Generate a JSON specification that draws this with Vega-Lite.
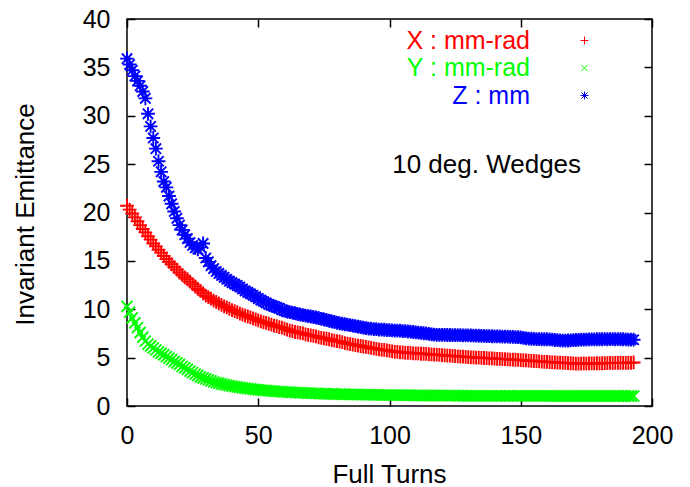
{
  "$schema": "https://vega.github.io/schema/vega-lite/v6.json",
  "autosize": {"type": "none"},
  "padding": {"left": 127, "top": 19, "right": 38, "bottom": 81},
  "width": 525,
  "height": 387,
  "background": "white",
  "config": {
    "font": "Liberation Sans",
    "view": {"stroke": "black", "strokeWidth": 1.5},
    "axis": {"grid": false, "domain": false, "tickColor": "black", "tickWidth": 1.5, "tickSize": -8, "labelColor": "black", "titleColor": "black", "labelFontSize": 25, "titleFontSize": 26, "titleFontWeight": "normal", "labelPadding": 25, "labelFlush": false, "labelOverlap": false}
  },
  "datasets": {
    "pts": [
{"s":"X","t":0,"v":20.7},{"s":"X","t":1,"v":20.3},{"s":"X","t":2,"v":19.9},{"s":"X","t":3,"v":19.5},{"s":"X","t":4,"v":19.1},{"s":"X","t":5,"v":18.7},{"s":"X","t":6,"v":18.3},{"s":"X","t":7,"v":17.95},{"s":"X","t":8,"v":17.55},{"s":"X","t":9,"v":17.2},
{"s":"X","t":10,"v":16.8},{"s":"X","t":11,"v":16.5},{"s":"X","t":12,"v":16.15},{"s":"X","t":13,"v":15.85},{"s":"X","t":14,"v":15.5},{"s":"X","t":15,"v":15.2},{"s":"X","t":16,"v":14.9},{"s":"X","t":17,"v":14.65},{"s":"X","t":18,"v":14.35},{"s":"X","t":19,"v":14.1},
{"s":"X","t":20,"v":13.8},{"s":"X","t":21,"v":13.55},{"s":"X","t":22,"v":13.3},{"s":"X","t":23,"v":13.1},{"s":"X","t":24,"v":12.85},{"s":"X","t":25,"v":12.6},{"s":"X","t":26,"v":12.35},{"s":"X","t":27,"v":12.1},{"s":"X","t":28,"v":11.9},{"s":"X","t":29,"v":11.65},
{"s":"X","t":30,"v":11.4},{"s":"X","t":31,"v":11.25},{"s":"X","t":32,"v":11.1},{"s":"X","t":33,"v":10.9},{"s":"X","t":34,"v":10.75},{"s":"X","t":35,"v":10.6},{"s":"X","t":36,"v":10.45},{"s":"X","t":37,"v":10.3},{"s":"X","t":38,"v":10.2},{"s":"X","t":39,"v":10.05},
{"s":"X","t":40,"v":9.9},{"s":"X","t":41,"v":9.8},{"s":"X","t":42,"v":9.7},{"s":"X","t":43,"v":9.55},{"s":"X","t":44,"v":9.45},{"s":"X","t":45,"v":9.35},{"s":"X","t":46,"v":9.25},{"s":"X","t":47,"v":9.15},{"s":"X","t":48,"v":9.05},{"s":"X","t":49,"v":8.95},
{"s":"X","t":50,"v":8.85},{"s":"X","t":51,"v":8.75},{"s":"X","t":52,"v":8.65},{"s":"X","t":53,"v":8.6},{"s":"X","t":54,"v":8.5},{"s":"X","t":55,"v":8.4},{"s":"X","t":56,"v":8.3},{"s":"X","t":57,"v":8.25},{"s":"X","t":58,"v":8.15},{"s":"X","t":59,"v":8.1},
{"s":"X","t":60,"v":8.0},{"s":"X","t":61,"v":7.9},{"s":"X","t":62,"v":7.8},{"s":"X","t":63,"v":7.75},{"s":"X","t":64,"v":7.65},{"s":"X","t":65,"v":7.6},{"s":"X","t":66,"v":7.55},{"s":"X","t":67,"v":7.5},{"s":"X","t":68,"v":7.4},{"s":"X","t":69,"v":7.35},
{"s":"X","t":70,"v":7.3},{"s":"X","t":71,"v":7.25},{"s":"X","t":72,"v":7.2},{"s":"X","t":73,"v":7.1},{"s":"X","t":74,"v":7.05},{"s":"X","t":75,"v":7.0},{"s":"X","t":76,"v":6.95},{"s":"X","t":77,"v":6.9},{"s":"X","t":78,"v":6.8},{"s":"X","t":79,"v":6.75},
{"s":"X","t":80,"v":6.7},{"s":"X","t":81,"v":6.65},{"s":"X","t":82,"v":6.6},{"s":"X","t":83,"v":6.5},{"s":"X","t":84,"v":6.45},{"s":"X","t":85,"v":6.4},{"s":"X","t":86,"v":6.35},{"s":"X","t":87,"v":6.3},{"s":"X","t":88,"v":6.25},{"s":"X","t":89,"v":6.2},
{"s":"X","t":90,"v":6.15},{"s":"X","t":91,"v":6.1},{"s":"X","t":92,"v":6.05},{"s":"X","t":93,"v":6.0},{"s":"X","t":94,"v":5.95},{"s":"X","t":95,"v":5.9},{"s":"X","t":96,"v":5.85},{"s":"X","t":97,"v":5.8},{"s":"X","t":98,"v":5.8},{"s":"X","t":99,"v":5.75},
{"s":"X","t":100,"v":5.7},{"s":"X","t":101,"v":5.65},{"s":"X","t":102,"v":5.6},{"s":"X","t":103,"v":5.6},{"s":"X","t":104,"v":5.55},{"s":"X","t":105,"v":5.55},{"s":"X","t":106,"v":5.5},{"s":"X","t":107,"v":5.5},{"s":"X","t":108,"v":5.5},{"s":"X","t":109,"v":5.45},
{"s":"X","t":110,"v":5.45},{"s":"X","t":111,"v":5.43},{"s":"X","t":112,"v":5.4},{"s":"X","t":113,"v":5.4},{"s":"X","t":114,"v":5.38},{"s":"X","t":115,"v":5.35},{"s":"X","t":116,"v":5.33},{"s":"X","t":117,"v":5.3},{"s":"X","t":118,"v":5.3},{"s":"X","t":119,"v":5.28},
{"s":"X","t":120,"v":5.25},{"s":"X","t":121,"v":5.23},{"s":"X","t":122,"v":5.2},{"s":"X","t":123,"v":5.2},{"s":"X","t":124,"v":5.18},{"s":"X","t":125,"v":5.15},{"s":"X","t":126,"v":5.13},{"s":"X","t":127,"v":5.1},{"s":"X","t":128,"v":5.1},{"s":"X","t":129,"v":5.08},
{"s":"X","t":130,"v":5.05},{"s":"X","t":131,"v":5.03},{"s":"X","t":132,"v":5.02},{"s":"X","t":133,"v":5.0},{"s":"X","t":134,"v":5.0},{"s":"X","t":135,"v":4.98},{"s":"X","t":136,"v":4.96},{"s":"X","t":137,"v":4.95},{"s":"X","t":138,"v":4.93},{"s":"X","t":139,"v":4.92},
{"s":"X","t":140,"v":4.9},{"s":"X","t":141,"v":4.88},{"s":"X","t":142,"v":4.87},{"s":"X","t":143,"v":4.85},{"s":"X","t":144,"v":4.84},{"s":"X","t":145,"v":4.82},{"s":"X","t":146,"v":4.8},{"s":"X","t":147,"v":4.79},{"s":"X","t":148,"v":4.78},{"s":"X","t":149,"v":4.76},
{"s":"X","t":150,"v":4.75},{"s":"X","t":151,"v":4.73},{"s":"X","t":152,"v":4.71},{"s":"X","t":153,"v":4.69},{"s":"X","t":154,"v":4.67},{"s":"X","t":155,"v":4.65},{"s":"X","t":156,"v":4.63},{"s":"X","t":157,"v":4.61},{"s":"X","t":158,"v":4.59},{"s":"X","t":159,"v":4.57},
{"s":"X","t":160,"v":4.55},{"s":"X","t":161,"v":4.54},{"s":"X","t":162,"v":4.52},{"s":"X","t":163,"v":4.51},{"s":"X","t":164,"v":4.49},{"s":"X","t":165,"v":4.48},{"s":"X","t":166,"v":4.46},{"s":"X","t":167,"v":4.45},{"s":"X","t":168,"v":4.43},{"s":"X","t":169,"v":4.42},
{"s":"X","t":170,"v":4.4},{"s":"X","t":171,"v":4.38},{"s":"X","t":172,"v":4.37},{"s":"X","t":173,"v":4.38},{"s":"X","t":174,"v":4.4},{"s":"X","t":175,"v":4.39},{"s":"X","t":176,"v":4.4},{"s":"X","t":177,"v":4.41},{"s":"X","t":178,"v":4.4},{"s":"X","t":179,"v":4.42},
{"s":"X","t":180,"v":4.4},{"s":"X","t":181,"v":4.42},{"s":"X","t":182,"v":4.44},{"s":"X","t":183,"v":4.43},{"s":"X","t":184,"v":4.45},{"s":"X","t":185,"v":4.44},{"s":"X","t":186,"v":4.46},{"s":"X","t":187,"v":4.45},{"s":"X","t":188,"v":4.47},{"s":"X","t":189,"v":4.46},
{"s":"X","t":190,"v":4.45},{"s":"X","t":191,"v":4.47},{"s":"X","t":192,"v":4.46},{"s":"X","t":193,"v":4.5},
{"s":"Y","t":0,"v":10.3},{"s":"Y","t":1,"v":9.7},{"s":"Y","t":2,"v":9.1},{"s":"Y","t":3,"v":8.6},{"s":"Y","t":4,"v":8.1},{"s":"Y","t":5,"v":7.6},{"s":"Y","t":6,"v":7.1},{"s":"Y","t":7,"v":6.7},{"s":"Y","t":8,"v":6.4},{"s":"Y","t":9,"v":6.2},
{"s":"Y","t":10,"v":6.0},{"s":"Y","t":11,"v":5.8},{"s":"Y","t":12,"v":5.6},{"s":"Y","t":13,"v":5.45},{"s":"Y","t":14,"v":5.3},{"s":"Y","t":15,"v":5.1},{"s":"Y","t":16,"v":4.95},{"s":"Y","t":17,"v":4.8},{"s":"Y","t":18,"v":4.6},{"s":"Y","t":19,"v":4.45},
{"s":"Y","t":20,"v":4.3},{"s":"Y","t":21,"v":4.1},{"s":"Y","t":22,"v":3.95},{"s":"Y","t":23,"v":3.8},{"s":"Y","t":24,"v":3.6},{"s":"Y","t":25,"v":3.45},{"s":"Y","t":26,"v":3.3},{"s":"Y","t":27,"v":3.15},{"s":"Y","t":28,"v":3.0},{"s":"Y","t":29,"v":2.9},
{"s":"Y","t":30,"v":2.8},{"s":"Y","t":31,"v":2.7},{"s":"Y","t":32,"v":2.6},{"s":"Y","t":33,"v":2.5},{"s":"Y","t":34,"v":2.42},{"s":"Y","t":35,"v":2.35},{"s":"Y","t":36,"v":2.28},{"s":"Y","t":37,"v":2.22},{"s":"Y","t":38,"v":2.16},{"s":"Y","t":39,"v":2.1},
{"s":"Y","t":40,"v":2.05},{"s":"Y","t":41,"v":2.0},{"s":"Y","t":42,"v":1.96},{"s":"Y","t":43,"v":1.92},{"s":"Y","t":44,"v":1.88},{"s":"Y","t":45,"v":1.84},{"s":"Y","t":46,"v":1.8},{"s":"Y","t":47,"v":1.77},{"s":"Y","t":48,"v":1.73},{"s":"Y","t":49,"v":1.7},
{"s":"Y","t":50,"v":1.67},{"s":"Y","t":51,"v":1.65},{"s":"Y","t":52,"v":1.62},{"s":"Y","t":53,"v":1.6},{"s":"Y","t":54,"v":1.57},{"s":"Y","t":55,"v":1.55},{"s":"Y","t":56,"v":1.53},{"s":"Y","t":57,"v":1.51},{"s":"Y","t":58,"v":1.49},{"s":"Y","t":59,"v":1.47},
{"s":"Y","t":60,"v":1.46},{"s":"Y","t":61,"v":1.44},{"s":"Y","t":62,"v":1.42},{"s":"Y","t":63,"v":1.41},{"s":"Y","t":64,"v":1.39},{"s":"Y","t":65,"v":1.38},{"s":"Y","t":66,"v":1.37},{"s":"Y","t":67,"v":1.35},{"s":"Y","t":68,"v":1.34},{"s":"Y","t":69,"v":1.33},
{"s":"Y","t":70,"v":1.32},{"s":"Y","t":71,"v":1.31},{"s":"Y","t":72,"v":1.3},{"s":"Y","t":73,"v":1.29},{"s":"Y","t":74,"v":1.28},{"s":"Y","t":75,"v":1.27},{"s":"Y","t":76,"v":1.26},{"s":"Y","t":77,"v":1.25},{"s":"Y","t":78,"v":1.24},{"s":"Y","t":79,"v":1.24},
{"s":"Y","t":80,"v":1.23},{"s":"Y","t":81,"v":1.22},{"s":"Y","t":82,"v":1.22},{"s":"Y","t":83,"v":1.21},{"s":"Y","t":84,"v":1.2},{"s":"Y","t":85,"v":1.2},{"s":"Y","t":86,"v":1.19},{"s":"Y","t":87,"v":1.19},{"s":"Y","t":88,"v":1.18},{"s":"Y","t":89,"v":1.18},
{"s":"Y","t":90,"v":1.17},{"s":"Y","t":91,"v":1.17},{"s":"Y","t":92,"v":1.16},{"s":"Y","t":93,"v":1.16},{"s":"Y","t":94,"v":1.15},{"s":"Y","t":95,"v":1.15},{"s":"Y","t":96,"v":1.15},{"s":"Y","t":97,"v":1.14},{"s":"Y","t":98,"v":1.14},{"s":"Y","t":99,"v":1.13},
{"s":"Y","t":100,"v":1.13},{"s":"Y","t":101,"v":1.13},{"s":"Y","t":102,"v":1.12},{"s":"Y","t":103,"v":1.12},{"s":"Y","t":104,"v":1.12},{"s":"Y","t":105,"v":1.11},{"s":"Y","t":106,"v":1.11},{"s":"Y","t":107,"v":1.11},{"s":"Y","t":108,"v":1.1},{"s":"Y","t":109,"v":1.1},
{"s":"Y","t":110,"v":1.1},{"s":"Y","t":111,"v":1.1},{"s":"Y","t":112,"v":1.09},{"s":"Y","t":113,"v":1.09},{"s":"Y","t":114,"v":1.09},{"s":"Y","t":115,"v":1.09},{"s":"Y","t":116,"v":1.08},{"s":"Y","t":117,"v":1.08},{"s":"Y","t":118,"v":1.08},{"s":"Y","t":119,"v":1.08},
{"s":"Y","t":120,"v":1.08},{"s":"Y","t":121,"v":1.07},{"s":"Y","t":122,"v":1.07},{"s":"Y","t":123,"v":1.07},{"s":"Y","t":124,"v":1.07},{"s":"Y","t":125,"v":1.07},{"s":"Y","t":126,"v":1.06},{"s":"Y","t":127,"v":1.06},{"s":"Y","t":128,"v":1.06},{"s":"Y","t":129,"v":1.06},
{"s":"Y","t":130,"v":1.06},{"s":"Y","t":131,"v":1.06},{"s":"Y","t":132,"v":1.05},{"s":"Y","t":133,"v":1.05},{"s":"Y","t":134,"v":1.05},{"s":"Y","t":135,"v":1.05},{"s":"Y","t":136,"v":1.05},{"s":"Y","t":137,"v":1.05},{"s":"Y","t":138,"v":1.05},{"s":"Y","t":139,"v":1.05},
{"s":"Y","t":140,"v":1.05},{"s":"Y","t":141,"v":1.04},{"s":"Y","t":142,"v":1.04},{"s":"Y","t":143,"v":1.04},{"s":"Y","t":144,"v":1.04},{"s":"Y","t":145,"v":1.04},{"s":"Y","t":146,"v":1.04},{"s":"Y","t":147,"v":1.04},{"s":"Y","t":148,"v":1.04},{"s":"Y","t":149,"v":1.04},
{"s":"Y","t":150,"v":1.04},{"s":"Y","t":151,"v":1.04},{"s":"Y","t":152,"v":1.04},{"s":"Y","t":153,"v":1.04},{"s":"Y","t":154,"v":1.04},{"s":"Y","t":155,"v":1.04},{"s":"Y","t":156,"v":1.04},{"s":"Y","t":157,"v":1.04},{"s":"Y","t":158,"v":1.04},{"s":"Y","t":159,"v":1.04},
{"s":"Y","t":160,"v":1.04},{"s":"Y","t":161,"v":1.03},{"s":"Y","t":162,"v":1.03},{"s":"Y","t":163,"v":1.03},{"s":"Y","t":164,"v":1.03},{"s":"Y","t":165,"v":1.03},{"s":"Y","t":166,"v":1.03},{"s":"Y","t":167,"v":1.03},{"s":"Y","t":168,"v":1.03},{"s":"Y","t":169,"v":1.03},
{"s":"Y","t":170,"v":1.03},{"s":"Y","t":171,"v":1.03},{"s":"Y","t":172,"v":1.03},{"s":"Y","t":173,"v":1.03},{"s":"Y","t":174,"v":1.03},{"s":"Y","t":175,"v":1.03},{"s":"Y","t":176,"v":1.03},{"s":"Y","t":177,"v":1.03},{"s":"Y","t":178,"v":1.03},{"s":"Y","t":179,"v":1.03},
{"s":"Y","t":180,"v":1.03},{"s":"Y","t":181,"v":1.03},{"s":"Y","t":182,"v":1.03},{"s":"Y","t":183,"v":1.03},{"s":"Y","t":184,"v":1.03},{"s":"Y","t":185,"v":1.03},{"s":"Y","t":186,"v":1.03},{"s":"Y","t":187,"v":1.03},{"s":"Y","t":188,"v":1.03},{"s":"Y","t":189,"v":1.03},
{"s":"Y","t":190,"v":1.03},{"s":"Y","t":191,"v":1.03},{"s":"Y","t":192,"v":1.03},{"s":"Y","t":193,"v":1.03},
{"s":"Z","t":0,"v":35.9},{"s":"Z","t":1,"v":35.3},{"s":"Z","t":2,"v":34.7},{"s":"Z","t":3,"v":34.1},{"s":"Z","t":4,"v":33.6},{"s":"Z","t":5,"v":33.1},{"s":"Z","t":6,"v":32.5},{"s":"Z","t":7,"v":31.8},{"s":"Z","t":8,"v":30.2},{"s":"Z","t":9,"v":28.9},
{"s":"Z","t":10,"v":27.7},{"s":"Z","t":11,"v":26.6},{"s":"Z","t":12,"v":25.3},{"s":"Z","t":13,"v":24.2},{"s":"Z","t":14,"v":23.2},{"s":"Z","t":15,"v":22.6},{"s":"Z","t":16,"v":21.7},{"s":"Z","t":17,"v":20.9},{"s":"Z","t":18,"v":20.1},{"s":"Z","t":19,"v":19.4},
{"s":"Z","t":20,"v":18.7},{"s":"Z","t":21,"v":18.2},{"s":"Z","t":22,"v":17.7},{"s":"Z","t":23,"v":17.3},{"s":"Z","t":24,"v":16.9},{"s":"Z","t":25,"v":16.6},{"s":"Z","t":26,"v":16.35},{"s":"Z","t":27,"v":16.2},{"s":"Z","t":28,"v":16.4},{"s":"Z","t":29,"v":16.8},
{"s":"Z","t":30,"v":15.3},{"s":"Z","t":31,"v":14.9},{"s":"Z","t":32,"v":14.5},{"s":"Z","t":33,"v":14.2},{"s":"Z","t":34,"v":13.9},{"s":"Z","t":35,"v":13.7},{"s":"Z","t":36,"v":13.5},{"s":"Z","t":37,"v":13.3},{"s":"Z","t":38,"v":13.1},{"s":"Z","t":39,"v":12.9},
{"s":"Z","t":40,"v":12.75},{"s":"Z","t":41,"v":12.6},{"s":"Z","t":42,"v":12.45},{"s":"Z","t":43,"v":12.3},{"s":"Z","t":44,"v":12.1},{"s":"Z","t":45,"v":11.9},{"s":"Z","t":46,"v":11.75},{"s":"Z","t":47,"v":11.6},{"s":"Z","t":48,"v":11.45},{"s":"Z","t":49,"v":11.3},
{"s":"Z","t":50,"v":11.1},{"s":"Z","t":51,"v":10.95},{"s":"Z","t":52,"v":10.8},{"s":"Z","t":53,"v":10.65},{"s":"Z","t":54,"v":10.5},{"s":"Z","t":55,"v":10.4},{"s":"Z","t":56,"v":10.3},{"s":"Z","t":57,"v":10.2},{"s":"Z","t":58,"v":10.1},{"s":"Z","t":59,"v":9.95},
{"s":"Z","t":60,"v":9.85},{"s":"Z","t":61,"v":9.75},{"s":"Z","t":62,"v":9.7},{"s":"Z","t":63,"v":9.65},{"s":"Z","t":64,"v":9.6},{"s":"Z","t":65,"v":9.5},{"s":"Z","t":66,"v":9.45},{"s":"Z","t":67,"v":9.4},{"s":"Z","t":68,"v":9.35},{"s":"Z","t":69,"v":9.3},
{"s":"Z","t":70,"v":9.25},{"s":"Z","t":71,"v":9.2},{"s":"Z","t":72,"v":9.15},{"s":"Z","t":73,"v":9.1},{"s":"Z","t":74,"v":9.0},{"s":"Z","t":75,"v":8.95},{"s":"Z","t":76,"v":8.9},{"s":"Z","t":77,"v":8.8},{"s":"Z","t":78,"v":8.75},{"s":"Z","t":79,"v":8.7},
{"s":"Z","t":80,"v":8.6},{"s":"Z","t":81,"v":8.55},{"s":"Z","t":82,"v":8.5},{"s":"Z","t":83,"v":8.45},{"s":"Z","t":84,"v":8.4},{"s":"Z","t":85,"v":8.35},{"s":"Z","t":86,"v":8.3},{"s":"Z","t":87,"v":8.25},{"s":"Z","t":88,"v":8.2},{"s":"Z","t":89,"v":8.15},
{"s":"Z","t":90,"v":8.1},{"s":"Z","t":91,"v":8.05},{"s":"Z","t":92,"v":8.0},{"s":"Z","t":93,"v":8.0},{"s":"Z","t":94,"v":7.95},{"s":"Z","t":95,"v":7.95},{"s":"Z","t":96,"v":7.9},{"s":"Z","t":97,"v":7.9},{"s":"Z","t":98,"v":7.88},{"s":"Z","t":99,"v":7.85},
{"s":"Z","t":100,"v":7.85},{"s":"Z","t":101,"v":7.82},{"s":"Z","t":102,"v":7.8},{"s":"Z","t":103,"v":7.8},{"s":"Z","t":104,"v":7.78},{"s":"Z","t":105,"v":7.75},{"s":"Z","t":106,"v":7.73},{"s":"Z","t":107,"v":7.7},{"s":"Z","t":108,"v":7.68},{"s":"Z","t":109,"v":7.65},
{"s":"Z","t":110,"v":7.6},{"s":"Z","t":111,"v":7.58},{"s":"Z","t":112,"v":7.55},{"s":"Z","t":113,"v":7.52},{"s":"Z","t":114,"v":7.5},{"s":"Z","t":115,"v":7.45},{"s":"Z","t":116,"v":7.4},{"s":"Z","t":117,"v":7.38},{"s":"Z","t":118,"v":7.36},{"s":"Z","t":119,"v":7.35},
{"s":"Z","t":120,"v":7.35},{"s":"Z","t":121,"v":7.35},{"s":"Z","t":122,"v":7.34},{"s":"Z","t":123,"v":7.34},{"s":"Z","t":124,"v":7.33},{"s":"Z","t":125,"v":7.33},{"s":"Z","t":126,"v":7.32},{"s":"Z","t":127,"v":7.32},{"s":"Z","t":128,"v":7.31},{"s":"Z","t":129,"v":7.3},
{"s":"Z","t":130,"v":7.3},{"s":"Z","t":131,"v":7.29},{"s":"Z","t":132,"v":7.28},{"s":"Z","t":133,"v":7.27},{"s":"Z","t":134,"v":7.26},{"s":"Z","t":135,"v":7.25},{"s":"Z","t":136,"v":7.24},{"s":"Z","t":137,"v":7.23},{"s":"Z","t":138,"v":7.22},{"s":"Z","t":139,"v":7.21},
{"s":"Z","t":140,"v":7.2},{"s":"Z","t":141,"v":7.2},{"s":"Z","t":142,"v":7.19},{"s":"Z","t":143,"v":7.18},{"s":"Z","t":144,"v":7.17},{"s":"Z","t":145,"v":7.16},{"s":"Z","t":146,"v":7.15},{"s":"Z","t":147,"v":7.14},{"s":"Z","t":148,"v":7.13},{"s":"Z","t":149,"v":7.12},
{"s":"Z","t":150,"v":7.1},{"s":"Z","t":151,"v":7.05},{"s":"Z","t":152,"v":7.0},{"s":"Z","t":153,"v":6.97},{"s":"Z","t":154,"v":6.95},{"s":"Z","t":155,"v":6.93},{"s":"Z","t":156,"v":6.92},{"s":"Z","t":157,"v":6.91},{"s":"Z","t":158,"v":6.9},{"s":"Z","t":159,"v":6.9},
{"s":"Z","t":160,"v":6.9},{"s":"Z","t":161,"v":6.88},{"s":"Z","t":162,"v":6.85},{"s":"Z","t":163,"v":6.82},{"s":"Z","t":164,"v":6.8},{"s":"Z","t":165,"v":6.78},{"s":"Z","t":166,"v":6.76},{"s":"Z","t":167,"v":6.76},{"s":"Z","t":168,"v":6.77},{"s":"Z","t":169,"v":6.78},
{"s":"Z","t":170,"v":6.8},{"s":"Z","t":171,"v":6.82},{"s":"Z","t":172,"v":6.83},{"s":"Z","t":173,"v":6.85},{"s":"Z","t":174,"v":6.86},{"s":"Z","t":175,"v":6.87},{"s":"Z","t":176,"v":6.88},{"s":"Z","t":177,"v":6.88},{"s":"Z","t":178,"v":6.89},{"s":"Z","t":179,"v":6.9},
{"s":"Z","t":180,"v":6.9},{"s":"Z","t":181,"v":6.9},{"s":"Z","t":182,"v":6.91},{"s":"Z","t":183,"v":6.9},{"s":"Z","t":184,"v":6.91},{"s":"Z","t":185,"v":6.92},{"s":"Z","t":186,"v":6.9},{"s":"Z","t":187,"v":6.91},{"s":"Z","t":188,"v":6.9},{"s":"Z","t":189,"v":6.9},
{"s":"Z","t":190,"v":6.88},{"s":"Z","t":191,"v":6.87},{"s":"Z","t":192,"v":6.86},{"s":"Z","t":193,"v":6.85}
    ],
    "note": [{"label": "10 deg. Wedges", "t": 137, "v": 24.05}]
  },
  "layer": [
    {
      "data": {"name": "pts"},
      "mark": {"type": "point", "filled": false, "strokeWidth": 1.9, "size": 190, "opacity": 1},
      "encoding": {
        "x": {"field": "t", "type": "quantitative", "scale": {"domain": [0, 200], "nice": false, "zero": false},
              "axis": {"orient": "bottom", "values": [0, 50, 100, 150, 200], "title": "Full Turns", "titleX": 262, "titleY": 76, "titleBaseline": "alphabetic"}},
        "y": {"field": "v", "type": "quantitative", "scale": {"domain": [0, 40], "nice": false, "zero": false},
              "axis": {"orient": "left", "values": [0, 5, 10, 15, 20, 25, 30, 35, 40], "title": "Invariant Emittance", "titleX": -94, "titleY": 195, "titleBaseline": "alphabetic", "titleAngle": -90}},
        "color": {"field": "s", "type": "nominal", "scale": {"domain": ["X", "Y", "Z"], "range": ["#ff0000", "#00ff00", "#0000ff"]},
                  "legend": {"orient": "none", "legendX": 445, "legendY": 9, "title": null, "labelFontSize": 25, "labelAlign": "right", "labelOffset": -67, "labelLimit": 400, "symbolSize": 64, "symbolStrokeWidth": 1, "rowPadding": 1.5, "padding": 0,
                             "labelExpr": "datum.label == 'X' ? 'X : mm-rad' : datum.label == 'Y' ? 'Y : mm-rad' : 'Z : mm'",
                             "labelColor": {"expr": "datum.value == 'X' ? '#ff0000' : datum.value == 'Y' ? '#00ff00' : '#0000ff'"}}},
        "shape": {"field": "s", "type": "nominal", "scale": {"domain": ["X", "Y", "Z"], "range": ["M-1,0H1M0,-1V1", "M-0.8,-0.8L0.8,0.8M-0.8,0.8L0.8,-0.8", "M-1,0H1M0,-1V1M-0.75,-0.75L0.75,0.75M-0.75,0.75L0.75,-0.75"]}}
      }
    },
    {
      "data": {"name": "note"},
      "mark": {"type": "text", "fontSize": 26, "align": "center", "baseline": "alphabetic", "color": "black"},
      "encoding": {
        "x": {"field": "t", "type": "quantitative", "axis": {"orient": "top", "values": [0, 50, 100, 150, 200], "labels": false, "title": null}},
        "y": {"field": "v", "type": "quantitative", "axis": {"orient": "right", "values": [0, 5, 10, 15, 20, 25, 30, 35, 40], "labels": false, "title": null}},
        "text": {"field": "label"}
      }
    }
  ],
  "resolve": {"axis": {"x": "independent", "y": "independent"}}
}
